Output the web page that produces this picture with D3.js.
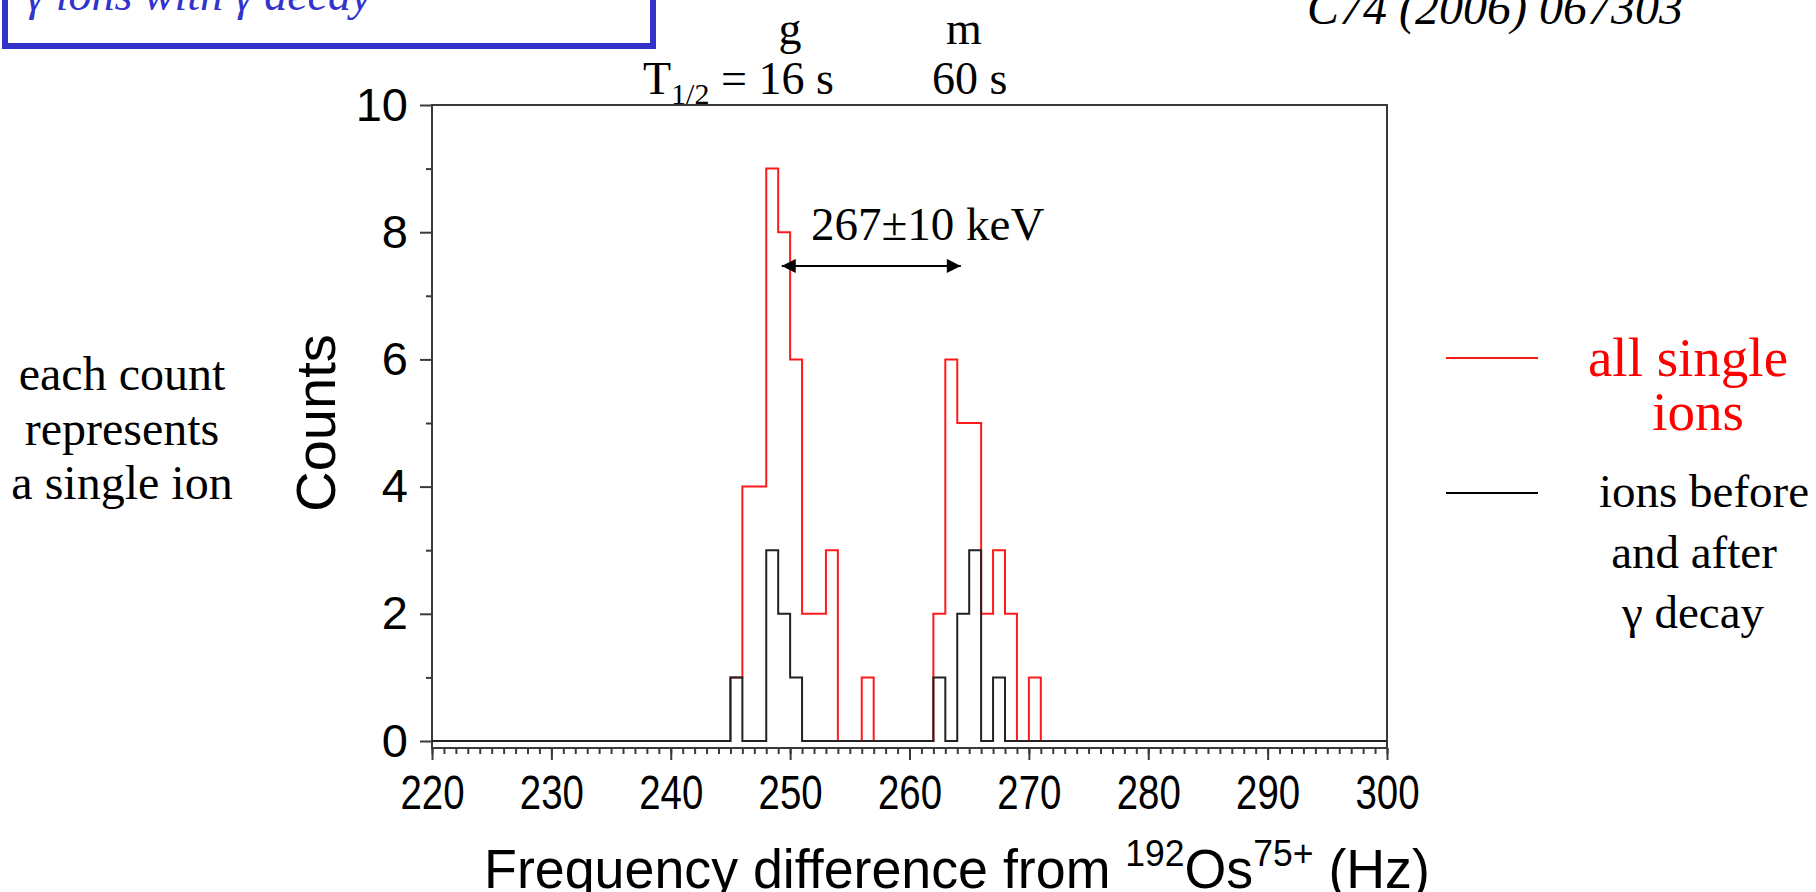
<!DOCTYPE html>
<html>
<head>
<meta charset="utf-8">
<script src="https://cdn.jsdelivr.net/npm/d3@7"></script>
<style>
  body { margin: 0; background: #fff; }
  svg { display: block; }
  .serif { font-family: "Liberation Serif", "Times New Roman", serif; }
  .sans { font-family: "Liberation Sans", Arial, sans-serif; }
</style>
</head>
<body>
<div id="chart"></div>
<script>
const FRAME_WIDTH = 1816;
const FRAME_HEIGHT = 892;

// plot box in page pixels
const PLOT = {left: 432, right: 1387, top: 105, zero: 741, bottom: 748};

// histogram, 1 Hz bins, value = counts in [bin, bin+1)
const allBins   = [245, 246, 247, 248, 249, 250, 251, 252, 253, 256, 262, 263, 264, 265, 266, 267, 268, 270];
const allCounts = [1,   4,   4,   9,   8,   6,   2,   2,   3,   1,   2,   6,   5,   5,   2,   3,   2,   1];

const decayBins   = [245, 248, 249, 250, 262, 264, 265, 267];
const decayCounts = [1,   3,   2,   1,   1,   2,   3,   1];

const xTicks = [220, 230, 240, 250, 260, 270, 280, 290, 300];
const yTicks = [0, 2, 4, 6, 8, 10];
const yMinorTicks = [1, 3, 5, 7, 9];

// separation arrow (Hz) and its height (counts)
const arrowFrom = 249.3, arrowTo = 264.3, arrowLevel = 7.47;

const X_SCALE = d3.scaleLinear().domain([220, 300]).range([PLOT.left, PLOT.right]);
const Y_SCALE = d3.scaleLinear().domain([0, 10]).range([PLOT.zero, PLOT.top]);

const svg = d3.select("#chart")
  .append("svg")
  .attr("width", FRAME_WIDTH)
  .attr("height", FRAME_HEIGHT);

// turn the sparse lists into a full step series 220..300
function steps(bins, counts) {
  const lookup = new Map(bins.map((b, i) => [b, counts[i]]));
  const pts = [];
  for (let b = 220; b < 300; b++) pts.push([b, lookup.get(b) || 0]);
  pts.push([300, pts[pts.length - 1][1]]);
  return pts;
}

const line = d3.line()
  .x(d => X_SCALE(d[0]))
  .y(d => Y_SCALE(d[1]))
  .curve(d3.curveStepAfter);

// frame
svg.append("rect")
  .attr("x", PLOT.left)
  .attr("y", PLOT.top)
  .attr("width", PLOT.right - PLOT.left)
  .attr("height", PLOT.bottom - PLOT.top)
  .attr("fill", "none")
  .attr("stroke", "#3a3a3a")
  .attr("stroke-width", 2);

// histograms
svg.append("path")
  .datum(steps(allBins, allCounts))
  .attr("d", line)
  .attr("fill", "none")
  .attr("stroke", "#ff1a1a")
  .attr("stroke-width", 2);

svg.append("path")
  .datum(steps(decayBins, decayCounts))
  .attr("d", line)
  .attr("fill", "none")
  .attr("stroke", "#222")
  .attr("stroke-width", 2);

// x axis: minor + major ticks
const xMinor = svg.append("g")
  .attr("transform", "translate(0," + PLOT.bottom + ")")
  .call(d3.axisBottom(X_SCALE).tickValues(d3.range(220, 301)).tickSize(6).tickFormat(""));
const xMajor = svg.append("g")
  .attr("transform", "translate(0," + PLOT.bottom + ")")
  .call(d3.axisBottom(X_SCALE).tickValues(xTicks).tickSize(12).tickPadding(15));
[xMinor, xMajor].forEach(g => {
  g.select(".domain").remove();
  g.selectAll("line").attr("stroke", "#3a3a3a").attr("stroke-width", 2);
});
xMajor.selectAll("text")
  .attr("class", "sans")
  .attr("font-size", 48)
  .attr("fill", "#000")
  .attr("transform", "scale(0.8,1)");

// y axis
const yMinor = svg.append("g")
  .attr("transform", "translate(" + PLOT.left + ",0)")
  .call(d3.axisLeft(Y_SCALE).tickValues(yMinorTicks).tickSize(6).tickFormat(""));
const yMajor = svg.append("g")
  .attr("transform", "translate(" + PLOT.left + ",0)")
  .call(d3.axisLeft(Y_SCALE).tickValues(yTicks).tickSize(12).tickPadding(12));
[yMinor, yMajor].forEach(g => {
  g.select(".domain").remove();
  g.selectAll("line").attr("stroke", "#3a3a3a").attr("stroke-width", 2);
});
yMajor.selectAll("text")
  .attr("class", "sans")
  .attr("font-size", 47)
  .attr("fill", "#000");

// axis titles
const xTitle = svg.append("text")
  .attr("class", "sans")
  .attr("transform", "translate(957,888) scale(0.96,1)")
  .attr("text-anchor", "middle")
  .attr("font-size", 56);
xTitle.append("tspan").text("Frequency difference from ");
xTitle.append("tspan").attr("font-size", 37).attr("dy", -22).text("192");
xTitle.append("tspan").attr("dy", 22).text("Os");
xTitle.append("tspan").attr("font-size", 37).attr("dy", -22).text("75+");
xTitle.append("tspan").attr("dy", 22).text(" (Hz)");

svg.append("text")
  .attr("class", "sans")
  .attr("transform", "translate(335,423) rotate(-90)")
  .attr("text-anchor", "middle")
  .attr("font-size", 56)
  .text("Counts");

// arrow annotation
svg.append("defs").append("marker")
  .attr("id", "head")
  .attr("viewBox", "0 0 10 10")
  .attr("refX", 10).attr("refY", 5)
  .attr("markerWidth", 16).attr("markerHeight", 14)
  .attr("markerUnits", "userSpaceOnUse")
  .attr("orient", "auto-start-reverse")
  .append("path").attr("d", "M0,0L10,5L0,10Z").attr("fill", "#000");

svg.append("line")
  .attr("x1", X_SCALE(arrowFrom)).attr("x2", X_SCALE(arrowTo))
  .attr("y1", Y_SCALE(arrowLevel)).attr("y2", Y_SCALE(arrowLevel))
  .attr("stroke", "#000").attr("stroke-width", 2)
  .attr("marker-start", "url(#head)")
  .attr("marker-end", "url(#head)");

// plain serif labels
const serifText = (x, y, txt, opts = {}) => svg.append("text")
  .attr("class", "serif")
  .attr("x", x).attr("y", y)
  .attr("font-size", opts.size || 46)
  .attr("text-anchor", opts.anchor || "start")
  .attr("fill", opts.fill || "#000")
  .attr("font-style", opts.italic ? "italic" : null)
  .text(txt);

serifText(811, 240, "267±10 keV", {size: 47});

// half-life labels above the frame
serifText(790, 44, "g", {anchor: "middle"});
serifText(964, 44, "m", {anchor: "middle"});
const th = svg.append("text").attr("class", "serif").attr("x", 643).attr("y", 94).attr("font-size", 46);
th.append("tspan").text("T");
th.append("tspan").attr("font-size", 30).attr("dy", 10).text("1/2");
th.append("tspan").attr("dy", -10).text(" = 16 s");
serifText(932, 94, "60 s");

// boxed header (cut off at the top) and reference
svg.append("rect")
  .attr("x", 5).attr("y", -30)
  .attr("width", 648).attr("height", 76)
  .attr("fill", "none")
  .attr("stroke", "#3333cc")
  .attr("stroke-width", 6);
serifText(26, 10, "γ ions with γ decay", {fill: "#3333cc", italic: true, size: 46});
serifText(1307, 24, "C74 (2006) 067303", {italic: true, size: 48});

// side notes
serifText(122, 390, "each count", {anchor: "middle", size: 48});
serifText(122, 445, "represents", {anchor: "middle", size: 48});
serifText(122, 499, "a single ion", {anchor: "middle", size: 48});

// legend
svg.append("line").attr("x1", 1446).attr("x2", 1538).attr("y1", 358).attr("y2", 358)
  .attr("stroke", "#ff1a1a").attr("stroke-width", 2);
svg.append("line").attr("x1", 1446).attr("x2", 1538).attr("y1", 493).attr("y2", 493)
  .attr("stroke", "#000").attr("stroke-width", 2);
serifText(1688, 376, "all single", {anchor: "middle", size: 55, fill: "#ff0000"});
serifText(1698, 430, "ions", {anchor: "middle", size: 55, fill: "#ff0000"});
serifText(1704, 507, "ions before", {anchor: "middle", size: 47});
serifText(1694, 568, "and after", {anchor: "middle", size: 47});
serifText(1693, 628, "γ decay", {anchor: "middle", size: 47});
</script>
</body>
</html>
